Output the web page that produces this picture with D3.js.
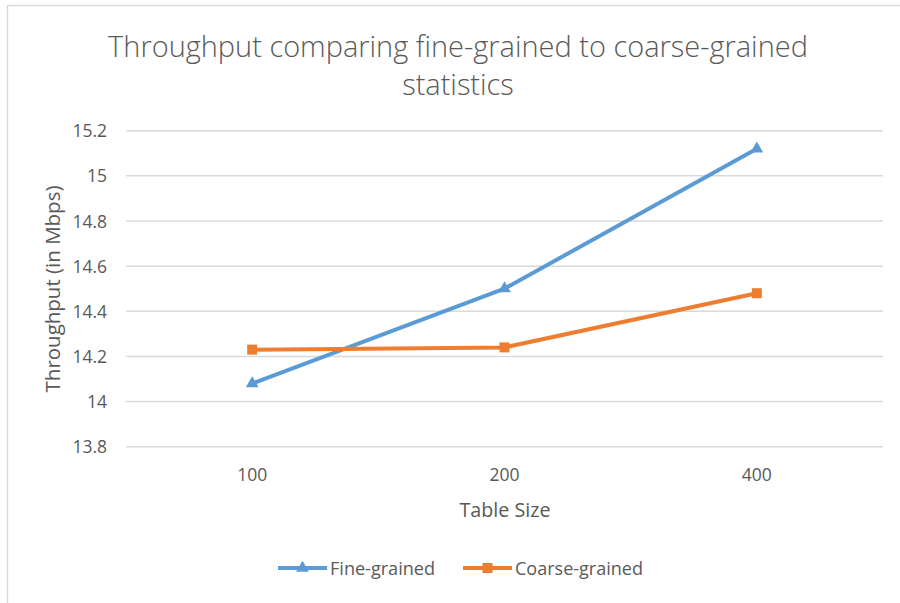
<!DOCTYPE html>
<html>
<head>
<meta charset="utf-8">
<script src="https://cdn.jsdelivr.net/npm/d3@7"></script>
<style>
  html, body { margin: 0; padding: 0; background: #fff; }
  svg { display: block; font-family: "Open Sans", "Noto Sans", sans-serif; }
</style>
</head>
<body>
<svg id="chart" width="900" height="603"></svg>
<script>
const categories = ["100", "200", "400"];
const fineGrained = [14.08, 14.5, 15.12];
const coarseGrained = [14.23, 14.24, 14.48];
const yTicks = [13.8, 14, 14.2, 14.4, 14.6, 14.8, 15, 15.2];
const seriesNames = ["Fine-grained", "Coarse-grained"];
const titleLines = ["Throughput comparing fine-grained to coarse-grained", "statistics"];
const xTitle = "Table Size";
const yTitle = "Throughput (in Mbps)";

const colors = ["#5B9BD5", "#ED7D31"];
const textColor = "#595959";
const gridColor = "#d9d9d9";

const svg = d3.select("#chart");

// chart border (only top and left visible)
svg.append("line").attr("x1", 7.5).attr("x2", 7.5).attr("y1", 5.5).attr("y2", 603).attr("stroke", "#d9d9d9").attr("stroke-width", 1.5);
svg.append("line").attr("x1", 7.5).attr("x2", 900).attr("y1", 5.5).attr("y2", 5.5).attr("stroke", "#d9d9d9").attr("stroke-width", 1.5);

const plot = { left: 126, right: 883, top: 130.7, bottom: 446.7 };

const x = d3.scaleBand().domain(categories).range([plot.left, plot.right]);
const y = d3.scaleLinear().domain([13.8, 15.2]).range([plot.bottom, plot.top]);

function fit(sel, target) {
  const node = sel.node();
  let fs = parseFloat(sel.attr("font-size"));
  const w = node.getComputedTextLength();
  if (w > 0) sel.attr("font-size", (fs * target / w).toFixed(2));
  return sel;
}

// gridlines
svg.append("g").selectAll("line").data(yTicks).join("line")
  .attr("x1", plot.left).attr("x2", plot.right)
  .attr("y1", d => y(d)).attr("y2", d => y(d))
  .attr("stroke", gridColor).attr("stroke-width", 1.5);

// y axis labels
const yAxis = d3.axisLeft(y).tickValues(yTicks).tickSize(0).tickPadding(0).tickFormat(d => String(+d.toFixed(1)));
const yg = svg.append("g").attr("transform", `translate(107,0)`).call(yAxis);
yg.select(".domain").remove();
yg.selectAll("text").attr("fill", textColor).attr("font-size", 17.5).attr("font-family", "Open Sans, sans-serif").attr("dy", "0.35em");

// x axis labels
const xAxis = d3.axisBottom(x).tickSize(0).tickPadding(0);
const xg = svg.append("g").attr("transform", `translate(0,465)`).call(xAxis);
xg.select(".domain").remove();
xg.selectAll("text").attr("fill", textColor).attr("font-size", 17.5).attr("font-family", "Open Sans, sans-serif").attr("dy", "0.35em").attr("y", 9.5);

// title
titleLines.forEach((t, i) => {
  const s = svg.append("text").attr("x", 458).attr("y", 45 + i * 38).attr("text-anchor", "middle")
    .attr("dominant-baseline", "central").attr("fill", textColor).attr("font-size", 24)
    .attr("font-weight", 300).text(t);
  if (i === 0) {
    fit(s, 700);
    titleLines._fs = s.attr("font-size");
  } else {
    s.attr("font-size", titleLines._fs);
  }
});

// axis titles
fit(svg.append("text").attr("x", 505).attr("y", 509).attr("text-anchor", "middle").attr("dominant-baseline", "central")
  .attr("fill", textColor).attr("font-size", 16).text(xTitle), 91);
fit(svg.append("text").attr("transform", "translate(52,289) rotate(-90)").attr("text-anchor", "middle").attr("dominant-baseline", "central")
  .attr("fill", textColor).attr("font-size", 16).text(yTitle), 207);

// series
const series = [fineGrained, coarseGrained];
const line = d3.line().x((d, i) => x(categories[i]) + x.bandwidth() / 2).y(d => y(d));
const symbols = [d3.symbol().type(d3.symbolTriangle).size(70), d3.symbol().type(d3.symbolSquare).size(100)];

series.forEach((vals, si) => {
  svg.append("path").datum(vals).attr("d", line).attr("fill", "none")
    .attr("stroke", colors[si]).attr("stroke-width", 4).attr("stroke-linejoin", "round");
  svg.append("g").selectAll("path").data(vals).join("path")
    .attr("transform", (d, i) => `translate(${x(categories[i]) + x.bandwidth() / 2},${y(d)})`)
    .attr("d", symbols[si]).attr("fill", colors[si]);
});

// legend
const legendItems = [
  { lx: 278, tx: 330, w: 105 },
  { lx: 463, tx: 515, w: 128 }
];
legendItems.forEach((it, si) => {
  const g = svg.append("g");
  g.append("line").attr("x1", it.lx).attr("x2", it.lx + 49).attr("y1", 568).attr("y2", 568)
    .attr("stroke", colors[si]).attr("stroke-width", 4);
  g.append("path").attr("transform", `translate(${it.lx + 24.5},568)`).attr("d", symbols[si]).attr("fill", colors[si]);
  fit(g.append("text").attr("x", it.tx).attr("y", 568).attr("dominant-baseline", "central")
    .attr("fill", textColor).attr("font-size", 16).text(seriesNames[si]), it.w);
});
</script>
</body>
</html>
